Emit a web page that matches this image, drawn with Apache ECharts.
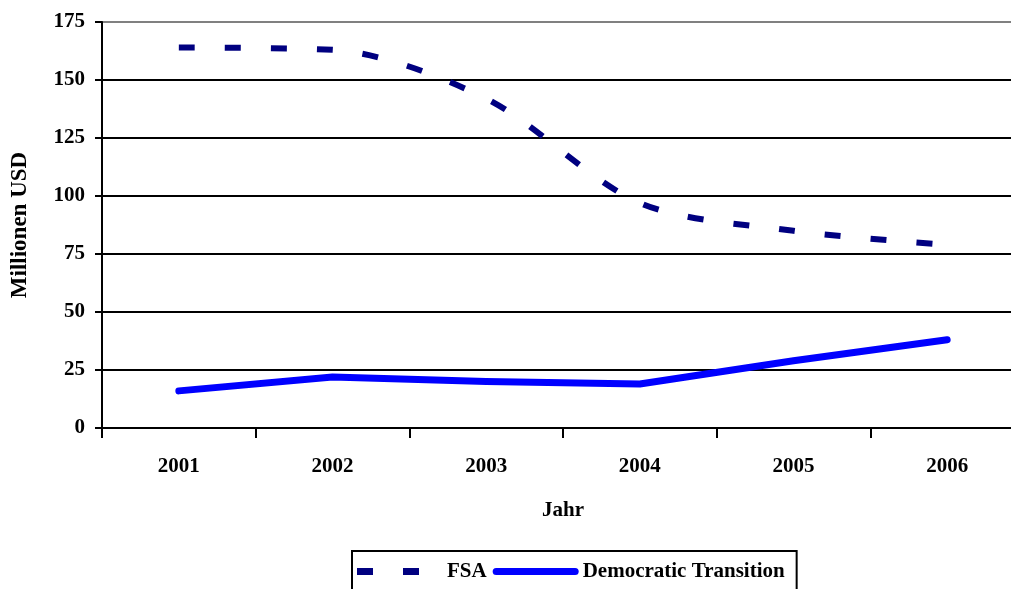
<!DOCTYPE html>
<html><head><meta charset="utf-8">
<script src="https://cdn.jsdelivr.net/npm/echarts@6/dist/echarts.min.js"></script>
<style>html,body{margin:0;padding:0;background:#fff}#c{width:1011px;height:589px}</style>
</head><body><div id="c"></div>
<script>
const years = ['2001','2002','2003','2004','2005','2006'];
const fsa = [164, 163, 142, 97, 85, 79];
const democratic = [16, 22, 20, 19, 29, 38];
const yTicks = {min: 0, max: 175, interval: 25};

const font = '"Liberation Serif", "Times New Roman", serif';
const chart = echarts.init(document.getElementById('c'), null, {renderer: 'canvas'});
chart.setOption({
  animation: false,
  backgroundColor: '#fff',
  textStyle: {fontFamily: font, fontWeight: 'bold', color: '#000'},
  grid: {left: 102, width: 922, top: 22, height: 406, containLabel: false, outerBoundsMode: 'none'},
  legend: {
    data: [
      {name: 'FSA', icon: 'path://M0,0H16V7H0Z M46,0H62V7H46Z M86,3L86,4Z'},
      {name: 'Democratic Transition', icon: 'path://M3.5,0H82.5A3.5,3.5,0,0,1,82.5,7H3.5A3.5,3.5,0,0,1,3.5,0Z'}
    ],
    left: 352, top: 551,
    itemWidth: 86, itemHeight: 7, itemGap: 6,
    padding: [10, 12, 14, 5],
    borderColor: '#000', borderWidth: 2,
    textStyle: {fontFamily: font, fontWeight: 'bold', fontSize: 21, color: '#000', padding: [0,0,0,-1]}
  },
  xAxis: {
    type: 'category', data: years, boundaryGap: true,
    name: 'Jahr', nameLocation: 'middle', nameGap: 72,
    nameTextStyle: {fontFamily: font, fontWeight: 'bold', fontSize: 21, color: '#000'},
    axisLine: {lineStyle: {color: '#000', width: 2}},
    axisTick: {show: true, length: 10, lineStyle: {color: '#000', width: 2}, alignWithLabel: false},
    axisLabel: {margin: 28, fontFamily: font, fontWeight: 'bold', fontSize: 21, color: '#000'},
    splitLine: {show: false}
  },
  yAxis: {
    type: 'value', min: yTicks.min, max: yTicks.max, interval: yTicks.interval,
    name: 'Millionen USD', nameLocation: 'middle', nameGap: 70, nameRotate: 90,
    nameTextStyle: {fontFamily: font, fontWeight: 'bold', fontSize: 23, color: '#000'},
    axisLine: {show: true, lineStyle: {color: '#000', width: 2}},
    axisTick: {show: true, length: 7, lineStyle: {color: '#000', width: 2}},
    axisLabel: {margin: 17, fontFamily: font, fontWeight: 'bold', fontSize: 21, color: '#000'},
    splitLine: {show: true, lineStyle: {color: ['#000','#000','#000','#000','#000','#000','#000','#808080'], width: 2}}
  },
  series: [
    {
      name: 'FSA', type: 'line', data: fsa, smooth: 0.3,
      symbol: 'none', showSymbol: false,
      lineStyle: {color: '#000080', width: 6, type: [16, 30], cap: 'butt'},
      itemStyle: {color: '#000080'}
    },
    {
      name: 'Democratic Transition', type: 'line', data: democratic,
      symbol: 'none', showSymbol: false,
      lineStyle: {color: '#0000FF', width: 7, cap: 'round', join: 'round'},
      itemStyle: {color: '#0000FF'}
    }
  ]
});
</script></body></html>
